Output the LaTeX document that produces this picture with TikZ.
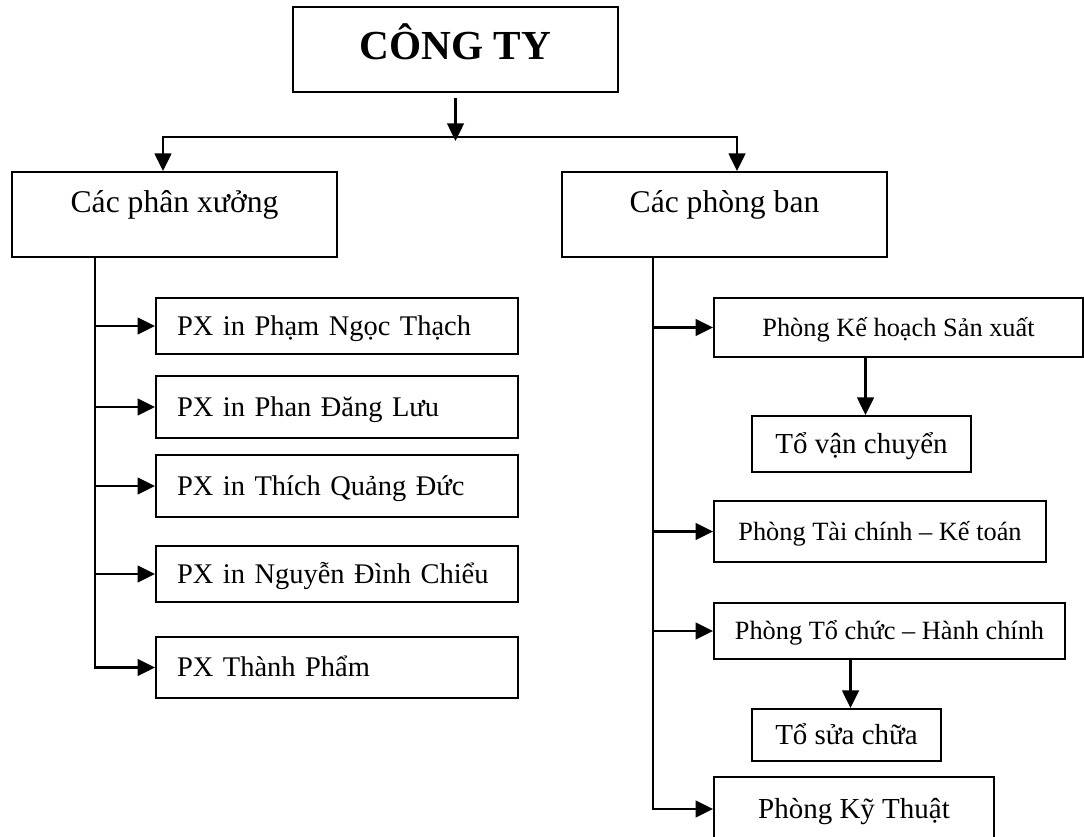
\documentclass[tikz,border=0pt]{standalone}
\usepackage{fontspec}
\setmainfont{Liberation Serif}
\usetikzlibrary{arrows.meta, calc}

\begin{document}
\begin{tikzpicture}[x=0.02cm, y=-0.02cm, >={Triangle[length=10pt,width=9.5pt]},
	line width=1.2pt, line join=miter,
	box/.style={draw, line width=1.1pt, inner sep=0pt, text depth=0pt},
	ctybox/.style={box, minimum width=6.5cm, minimum height=1.7cm,
		font=\bfseries\fontsize{23.5}{26}\selectfont, text height=15.5pt, text depth=0.14cm},
	groupbox/.style={box, minimum width=6.5cm, minimum height=1.7cm,
		font=\fontsize{18}{21}\selectfont, text height=11.9pt, text depth=0.5cm},
	pxbox/.style={box, minimum width=7.24cm, text width=6.4cm, inner xsep=0.42cm, align=left,
		font=\fontsize{16.2}{19}\selectfont, text height=10.7pt},
	roombox/.style={box, font=\fontsize{15}{18}\selectfont, text height=9.9pt},
	teambox/.style={box, font=\fontsize{16.5}{19}\selectfont, text height=10.9pt}]
	
	\useasboundingbox (0,0) rectangle (1084,837);
	
	%========================
	% Top: company
	%========================
	\node[ctybox] (cty) at (455.5,49.5) {CÔNG TY};
	\node[groupbox] (px) at (174.5,214.5) {Các phân xưởng};
	\node[groupbox] (pb) at (724.5,214.5) {Các phòng ban};
	
	\coordinate (barL) at (163,137);
	\coordinate (barR) at (737,137);
	\draw[->, shorten <=0.1cm, shorten >=-0.08cm] (cty.south) -- (cty.south |- barL);
	\draw[<->] (barL |- px.north) -- (barL) -- (barR) -- (barR |- pb.north);
	
	%========================
	% Left: workshops
	%========================
	\node[pxbox, minimum height=1.12cm] (px1) at (337,326) {PX in Phạm Ngọc Thạch};
	\node[pxbox, minimum height=1.24cm] (px2) at (337,407) {PX in Phan Đăng Lưu};
	\node[pxbox, minimum height=1.24cm] (px3) at (337,486) {PX in Thích Quảng Đức};
	\node[pxbox, minimum height=1.12cm] (px4) at (337,574) {PX in Nguyễn Đình Chiểu};
	\node[pxbox, minimum height=1.22cm] (px5) at (337,667.5) {PX Thành Phẩm};
	
	\coordinate (trunkL) at ($(px.south west)+(84,0)$);
	\draw[->] (trunkL) |- (px5.west);
	\foreach \b in {px1,px2,px3,px4}
		\draw[->] (\b.west -| trunkL) -- (\b.west);
	
	%========================
	% Right: departments
	%========================
	\node[roombox, minimum width=7.38cm, minimum height=1.18cm] (kh) at (898.5,327.5) {Phòng Kế hoạch Sản xuất};
	\node[teambox, minimum width=4.38cm, minimum height=1.12cm] (vc) at (861.5,444) {Tổ vận chuyển};
	\node[roombox, minimum width=6.64cm, minimum height=1.22cm] (tc) at (880,531.5) {Phòng Tài chính – Kế toán};
	\node[roombox, minimum width=7.02cm, minimum height=1.12cm] (hc) at (889.5,631) {Phòng Tổ chức – Hành chính};
	\node[teambox, minimum width=3.78cm, minimum height=1.04cm] (sc) at (846.5,735) {Tổ sửa chữa};
	\node[teambox, minimum width=5.6cm, minimum height=1.28cm] (kt) at (854,809) {Phòng Kỹ Thuật};
	
	\coordinate (trunkR) at ($(pb.south west)+(92,0)$);
	\draw[->] (trunkR) |- (kt.west);
	\foreach \b in {kh,tc,hc}
		\draw[->] (\b.west -| trunkR) -- (\b.west);
	
	% sub-teams
	\draw[->] ($(kh.south -| vc.north)+(4,0)$) -- ($(vc.north)+(4,0)$);
	\draw[->] ($(hc.south -| sc.north)+(4,0)$) -- ($(sc.north)+(4,0)$);
	
\end{tikzpicture}
\end{document}
